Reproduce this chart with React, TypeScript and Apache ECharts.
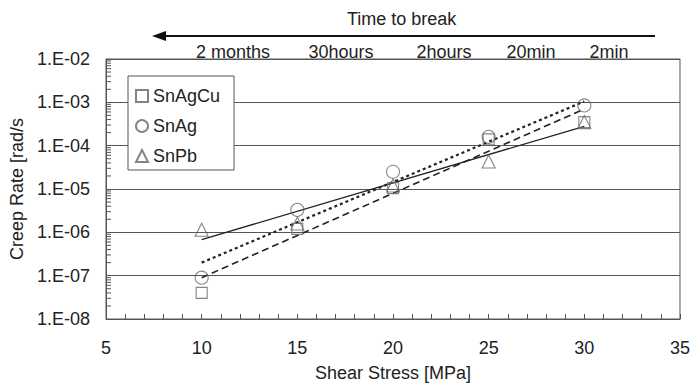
import React, { useEffect, useRef } from "react";
import * as echarts from "echarts";

const stress = [10, 15, 20, 25, 30];
const snAgCu = [4e-8, 1.2e-6, 1.05e-5, 1.4e-4, 3.5e-4];
const snAg = [9e-8, 3.3e-6, 2.5e-5, 1.6e-4, 8.5e-4];
const snPb = [1.15e-6, 1.6e-6, 1.2e-5, 4.3e-5, 3.5e-4];

const fitX = [10, 30];
const snAgCuFit = [9e-8, 7e-4];
const snAgFit = [2e-7, 1.05e-3];
const snPbFit = [6.8e-7, 2.8e-4];

const X_MIN = 5;
const X_MAX = 35;
const Y_MIN = 1e-8;
const Y_MAX = 1e-2;

const timeLabels = ["2 months", "30hours", "2hours", "20min", "2min"];
const seriesNames = ["SnAgCu", "SnAg", "SnPb"];

const FONT = "'Liberation Sans', Arial, Helvetica, sans-serif";

function minorValues(): number[] {
  const out: number[] = [];
  for (let e = -8; e < -2; e++) {
    for (let m = 2; m <= 9; m++) out.push(m * Math.pow(10, e));
  }
  return out;
}

function fmtExp(v: number): string {
  const e = Math.round(Math.log10(v));
  const s = e < 0 ? "-" : "+";
  return "1.E" + s + String(Math.abs(e)).padStart(2, "0");
}

export default function App() {
  const ref = useRef<HTMLDivElement>(null);
  useEffect(() => {
    if (!ref.current) return;
    const chart = echarts.init(ref.current, null, { renderer: "svg" });
    const pair = (xs: number[], ys: number[]) => xs.map((x, i) => [x, ys[i]]);
    const markerStyle = { color: "rgba(255,255,255,0)", borderColor: "#666", borderWidth: 1.1 };
    const timeX = [233, 341, 444, 531, 609];

    chart.setOption({
      animation: false,
      backgroundColor: "#fff",
      textStyle: { fontFamily: FONT },
      grid: { left: 106, right: 12, top: 59, bottom: 64, show: true, borderColor: "#555", borderWidth: 1 },
      legend: {
        orient: "vertical",
        left: 128,
        top: 76,
        data: seriesNames,
        backgroundColor: "#fff",
        borderColor: "#555",
        borderWidth: 1,
        borderRadius: 0,
        padding: [11, 14, 5, 7],
        itemGap: 12,
        itemWidth: 12,
        itemHeight: 12,
        textStyle: { fontSize: 18, color: "#222", fontFamily: FONT },
      },
      xAxis: {
        type: "value",
        min: X_MIN,
        max: X_MAX,
        interval: 5,
        name: "Shear Stress [MPa]",
        nameLocation: "middle",
        nameGap: 45,
        nameTextStyle: { fontSize: 18, color: "#222", fontFamily: FONT },
        axisLine: { show: true, onZero: false, lineStyle: { color: "#555", width: 1 } },
        axisTick: { show: true, inside: true, length: 5, lineStyle: { color: "#555", width: 1 } },
        minorTick: { show: true, splitNumber: 5, length: 5, lineStyle: { color: "#555", width: 1 } },
        splitLine: { show: false },
        axisLabel: { fontSize: 18, color: "#222", margin: 20, fontFamily: FONT },
      },
      yAxis: {
        type: "log",
        logBase: 10,
        min: Y_MIN,
        max: Y_MAX,
        splitNumber: 6,
        name: "Creep Rate [rad/s",
        nameLocation: "middle",
        nameGap: 74,
        nameTextStyle: { fontSize: 18, color: "#222", fontFamily: FONT },
        axisLine: { show: true, onZero: false, lineStyle: { color: "#555", width: 1 } },
        axisTick: { show: true, inside: true, length: 5, lineStyle: { color: "#555" } },
        splitLine: { show: true, lineStyle: { color: "#555", width: 1 } },
        axisLabel: { fontSize: 18, color: "#222", margin: 16, fontFamily: FONT, formatter: (v: number) => fmtExp(v) },
      },
      series: [
        {
          type: "custom",
          silent: true,
          clip: false,
          coordinateSystem: "cartesian2d",
          data: minorValues().map((v) => [X_MIN, v]),
          encode: { x: 0, y: 1 },
          renderItem: (params: any, api: any) => {
            const p = api.coord([api.value(0), api.value(1)]);
            return {
              type: "line",
              shape: { x1: p[0], y1: p[1], x2: p[0] + 5, y2: p[1] },
              style: { stroke: "#555", lineWidth: 1 },
            };
          },
          z: 6,
        },
        {
          name: "SnPb fit",
          type: "line",
          data: pair(fitX, snPbFit),
          symbol: "none",
          lineStyle: { color: "#222", width: 1.3, type: "solid" },
          z: 4,
        },
        {
          name: "SnAg fit",
          type: "line",
          data: pair(fitX, snAgFit),
          symbol: "none",
          lineStyle: { color: "#222", width: 2.2, type: [3, 3] },
          z: 4,
        },
        {
          name: "SnAgCu fit",
          type: "line",
          data: pair(fitX, snAgCuFit),
          symbol: "none",
          lineStyle: { color: "#222", width: 1.6, type: [7, 4] },
          z: 4,
        },
        {
          name: "SnAgCu",
          type: "scatter",
          data: pair(stress, snAgCu),
          symbol: "rect",
          symbolSize: 11,
          itemStyle: markerStyle,
          z: 5,
        },
        {
          name: "SnAg",
          type: "scatter",
          data: pair(stress, snAg),
          symbol: "circle",
          symbolSize: 13,
          itemStyle: markerStyle,
          z: 5,
        },
        {
          name: "SnPb",
          type: "scatter",
          data: pair(stress, snPb),
          symbol: "triangle",
          symbolSize: 13,
          itemStyle: markerStyle,
          z: 5,
        },
      ],
      graphic: [
        {
          type: "text",
          left: 407 - 60,
          top: 10,
          style: { text: "Time to break", fontSize: 18, fill: "#222", fontFamily: FONT },
        },
        {
          type: "line",
          shape: { x1: 160, y1: 36, x2: 655, y2: 36 },
          style: { stroke: "#111", lineWidth: 2 },
        },
        {
          type: "polygon",
          shape: { points: [[152, 36], [166, 31], [166, 41]] },
          style: { fill: "#111" },
        },
        ...timeLabels.map((t, i) => ({
          type: "text",
          x: timeX[i],
          y: 52,
          style: { text: t, fontSize: 18, fill: "#222", fontFamily: FONT, align: "center", verticalAlign: "middle" },
        })),
      ],
    });
    return () => chart.dispose();
  }, []);
  return <div ref={ref} style={{ width: 693, height: 387, position: "absolute", left: 0, top: 0 }} />;
}
